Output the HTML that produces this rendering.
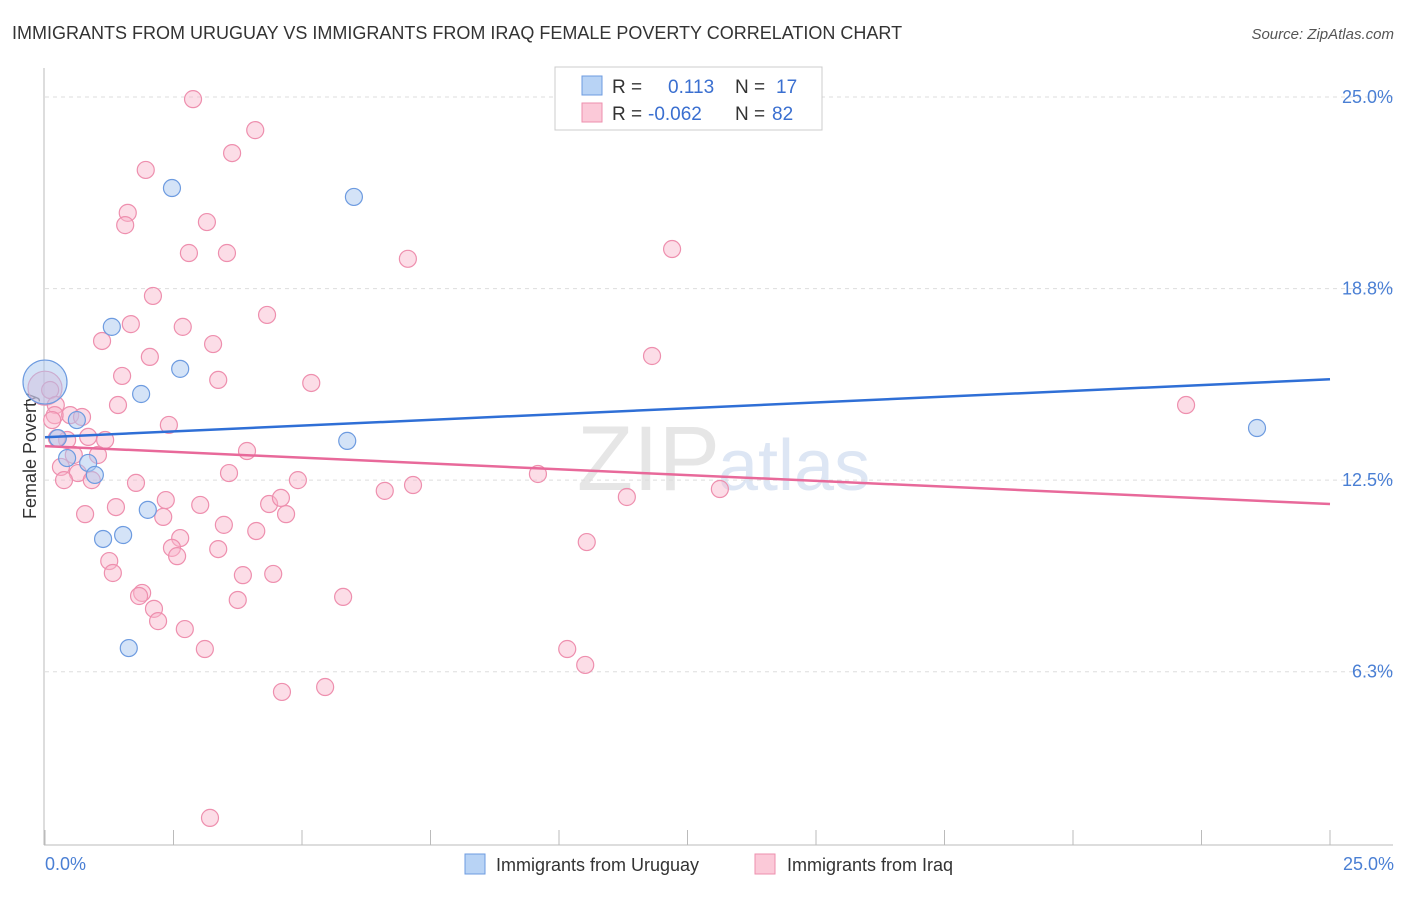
<!DOCTYPE html>
<html><head><meta charset="utf-8"><style>
body{margin:0;background:#fff;font-family:"Liberation Sans",sans-serif}
svg text{font-family:"Liberation Sans",sans-serif}
</style></head><body>
<svg id="c" width="1406" height="892">
<text x="12" y="39" font-size="18" fill="#333">IMMIGRANTS FROM URUGUAY VS IMMIGRANTS FROM IRAQ FEMALE POVERTY CORRELATION CHART</text>
<text x="1394" y="39" font-size="15" fill="#555" font-style="italic" text-anchor="end">Source: ZipAtlas.com</text>
<text x="720" y="490" font-size="92" fill="#e6e6e6" text-anchor="end" font-family="Liberation Serif">ZIP</text>
<text x="718" y="490" font-size="72" fill="#dde6f4">atlas</text>
<g id="grid"></g>
<line x1="44" y1="68" x2="44" y2="845" stroke="#bbb"/>
<line x1="44" y1="845" x2="1393" y2="845" stroke="#bbb"/>
<text x="36" y="456" font-size="18" fill="#333" text-anchor="middle" transform="rotate(-90 36 456)">Female Poverty</text>
<text x="45" y="870" font-size="18" fill="#4a7fd4">0.0%</text>
<text x="1394" y="870" font-size="18" fill="#4a7fd4" text-anchor="end">25.0%</text>
<g id="pts"></g>
<g id="lines"></g>
<g>
<rect x="555" y="67" width="267" height="63" fill="#fff" stroke="#ccc"/>
<rect x="582" y="76" width="20" height="19" fill="#b8d3f5" stroke="#6d9be0"/>
<rect x="582" y="103" width="20" height="19" fill="#fbc9d8" stroke="#ee8fae"/>
<text x="612" y="93" font-size="19" fill="#333">R = </text><text x="668" y="93" font-size="19" fill="#3a6fd0">0.113</text>
<text x="735" y="93" font-size="19" fill="#333">N = </text><text x="776" y="93" font-size="19" fill="#3a6fd0">17</text>
<text x="612" y="120" font-size="19" fill="#333">R = </text><text x="648" y="120" font-size="19" fill="#3a6fd0">-0.062</text>
<text x="735" y="120" font-size="19" fill="#333">N = </text><text x="772" y="120" font-size="19" fill="#3a6fd0">82</text>
</g>
<g><rect x="465" y="854" width="20" height="20" fill="#b8d3f5" stroke="#6d9be0"/><text x="496" y="871" font-size="18" fill="#333">Immigrants from Uruguay</text></g>
<g><rect x="755" y="854" width="20" height="20" fill="#fbc9d8" stroke="#ee8fae"/><text x="787" y="871" font-size="18" fill="#333">Immigrants from Iraq</text></g>
</svg>
<script>
const yTicks=[25,18.75,12.5,6.25];
const yTickLabels=["25.0%","18.8%","12.5%","6.3%"];
const xTicks=[0,2.5,5,7.5,10,12.5,15,17.5,20,22.5,25];
const uruX=[0,0.25,0.43,0.62,0.84,0.97,1.13,1.30,1.52,1.63,1.87,2.00,2.47,2.63,5.88,6.01,23.58];
const uruY=[15.70,13.87,13.22,14.46,13.06,12.67,10.58,17.50,10.71,7.02,15.31,11.53,22.03,16.13,13.78,21.74,14.20];
const iraqX=[0,2.88,4.09,3.64,1.96,1.61,1.56,3.15,2.80,3.54,7.06,12.20,2.10,4.32,1.67,2.68,1.11,3.27,2.04,11.81,1.50,3.37,5.18,0.10,0.21,1.42,22.20,0.19,0.49,0.72,2.41,0.14,0.43,0.84,1.17,0.23,3.93,0.56,1.03,0.31,0.64,0.37,0.91,3.58,9.59,4.92,1.77,6.61,7.16,13.13,11.32,2.35,3.02,4.36,4.59,1.38,0.78,2.30,4.69,3.48,4.11,10.54,2.63,2.47,3.37,2.57,1.25,1.32,3.85,4.44,1.89,1.83,5.80,3.75,2.12,2.20,2.72,3.11,10.16,10.51,5.45,4.61,3.21];
const iraqY=[15.5,24.93,23.92,23.17,22.62,21.22,20.82,20.92,19.91,19.91,19.72,20.04,18.51,17.89,17.59,17.50,17.04,16.94,16.52,16.55,15.90,15.77,15.67,15.44,14.95,14.95,14.95,14.62,14.62,14.56,14.30,14.46,13.81,13.91,13.81,13.87,13.45,13.32,13.32,12.93,12.73,12.50,12.50,12.73,12.70,12.50,12.41,12.15,12.34,12.21,11.95,11.85,11.69,11.72,11.92,11.62,11.39,11.30,11.39,11.04,10.84,10.48,10.61,10.29,10.25,10.02,9.86,9.47,9.40,9.44,8.82,8.72,8.69,8.59,8.30,7.90,7.64,6.99,6.99,6.47,5.75,5.59,1.48];
const uruTrend=[13.90,15.79];
const iraqTrend=[13.61,11.72];
const X=v=>45+v*51.4, Y=v=>97+(25-v)*30.65;
const NS="http://www.w3.org/2000/svg";
function mk(t,a,p){const e=document.createElementNS(NS,t);for(const k in a)e.setAttribute(k,a[k]);p.appendChild(e);return e;}
const g=document.getElementById('grid');
yTicks.forEach((v,i)=>{
 const l=mk('line',{x1:45,x2:1393,y1:Y(v),y2:Y(v),stroke:'#ddd','stroke-dasharray':'4,4'},g);
 
 
 const t=mk('text',{x:1393,y:Y(v)+6,'font-size':18,fill:'#4a7fd4','text-anchor':'end'},g);
 t.textContent=yTickLabels[i];
 
 
});
xTicks.forEach(v=>{
 const l=mk('line',{x1:X(v),x2:X(v),y1:830,y2:845,stroke:'#bbb'},g);
 
 
});
const p=document.getElementById('pts');
iraqX.forEach((x,i)=>{
 const c=mk('circle',{cx:X(x),cy:Y(iraqY[i]),r:i==0?17:8.5,fill:'rgba(248,180,202,0.45)',stroke:'#ee8fae','stroke-width':1.2},p);
 
 
});
uruX.forEach((x,i)=>{
 const c=mk('circle',{cx:X(x),cy:Y(uruY[i]),r:i==0?22:8.5,fill:'rgba(170,200,240,0.5)',stroke:'#6d9be0','stroke-width':1.2},p);
 
 
});
const L=document.getElementById('lines');
const a=mk('line',{x1:X(0),x2:X(25),y1:Y(uruTrend[0]),y2:Y(uruTrend[1]),stroke:'#2f6fd6','stroke-width':2.5},L);


const b=mk('line',{x1:X(0),x2:X(25),y1:Y(iraqTrend[0]),y2:Y(iraqTrend[1]),stroke:'#e8699a','stroke-width':2.5},L);


</script>
</body></html>
